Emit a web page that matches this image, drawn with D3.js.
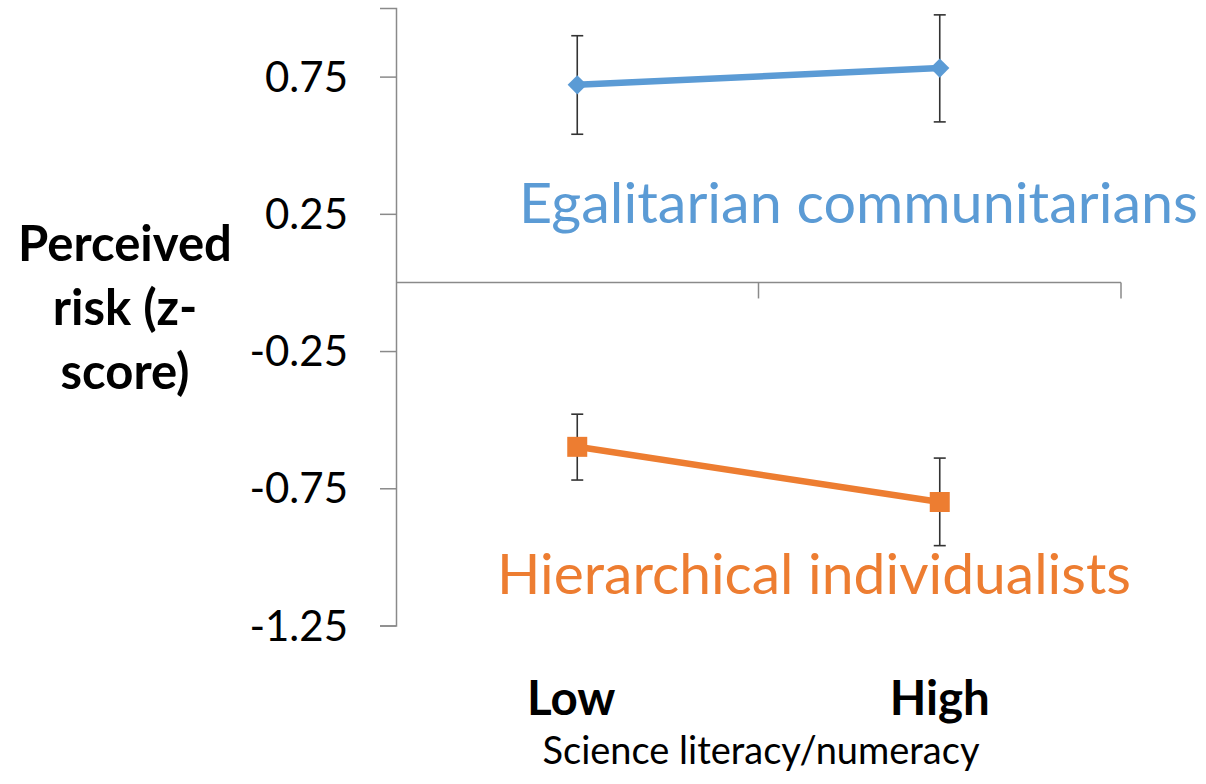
<!DOCTYPE html>
<html>
<head>
<meta charset="utf-8">
<script src="https://cdn.jsdelivr.net/npm/d3@7"></script>
<style>
  html, body { margin: 0; padding: 0; background: #fff; }
  svg { display: block; }
  text { font-family: Lato, "Open Sans", sans-serif; }
</style>
</head>
<body>
<svg id="chart" width="1206" height="784"></svg>
<script>
// ---- data ----
const categories = ["Low", "High"];
const egalitarian = [0.720, 0.781];
const egalitarianLower = [0.540, 0.585];
const egalitarianUpper = [0.899, 0.975];
const hierarchical = [-0.599, -0.800];
const hierarchicalLower = [-0.720, -0.959];
const hierarchicalUpper = [-0.480, -0.640];
const yTickValues = [-1.25, -0.75, -0.25, 0.25, 0.75];
const yTickLabels = ["-1.25", "-0.75", "-0.25", "0.25", "0.75"];
const yDomain = [-1.25, 1.0];
const yTitleLines = ["Perceived", "risk (z-", "score)"];
const xTitle = "Science literacy/numeracy";
const seriesNames = ["Egalitarian communitarians", "Hierarchical individualists"];

(function draw() {
  const svg = d3.select("#chart");
  const plotLeft = 396, plotRight = 1121, plotTop = 8, plotBottom = 625.5;
  const axisColor = "#8a8a8a";

  const x = d3.scaleBand().domain(categories).range([plotLeft, plotRight]).padding(0);
  const y = d3.scaleLinear().domain(yDomain).range([plotBottom, plotTop]);
  const cx = d => x(d) + x.bandwidth() / 2;

  // y axis
  const yAxis = d3.axisLeft(y)
    .tickValues(yTickValues)
    .tickSize(16)
    .tickPadding(32)
    .tickFormat((d, i) => yTickLabels[i]);
  const gy = svg.append("g").attr("transform", `translate(${plotLeft},0)`).call(yAxis);
  gy.select(".domain").attr("stroke", axisColor).attr("stroke-width", 1.5);
  gy.selectAll(".tick line").attr("stroke", axisColor).attr("stroke-width", 1.5);
  gy.selectAll(".tick text")
    .attr("font-family", "Lato, 'Open Sans', sans-serif")
    .attr("font-size", 42)
    .attr("fill", "#000")
    .attr("dy", "0.35em");

  // x axis at y = 0, ticks at band boundaries
  const y0 = y(0);
  const gx = svg.append("g");
  gx.append("line")
    .attr("x1", plotLeft).attr("x2", plotRight)
    .attr("y1", y0).attr("y2", y0)
    .attr("stroke", axisColor).attr("stroke-width", 1.5);
  const boundaries = categories.map(c => x(c) + x.step());
  gx.selectAll("line.tk").data(boundaries).join("line")
    .attr("class", "tk")
    .attr("x1", d => d).attr("x2", d => d)
    .attr("y1", y0).attr("y2", y0 + 16)
    .attr("stroke", axisColor).attr("stroke-width", 1.5);

  // category labels
  svg.selectAll("text.cat").data(categories).join("text")
    .attr("class", "cat")
    .attr("x", d => cx(d) - (d === "Low" ? 6 : 0))
    .attr("y", 715)
    .attr("text-anchor", "middle")
    .attr("font-weight", "bold")
    .attr("font-size", 47.5)
    .attr("fill", "#000")
    .text(d => d);

  // x title
  svg.append("text")
    .attr("x", 761).attr("y", 764)
    .attr("text-anchor", "middle")
    .attr("font-size", 38)
    .attr("fill", "#000")
    .text(xTitle);

  // y title
  svg.append("g").selectAll("text").data(yTitleLines).join("text")
    .attr("x", 125)
    .attr("y", (d, i) => 260.5 + i * 64)
    .attr("text-anchor", "middle")
    .attr("font-weight", "bold")
    .attr("font-size", 49)
    .attr("fill", "#000")
    .text(d => d);

  // series
  const series = [
    { values: egalitarian, lo: egalitarianLower, hi: egalitarianUpper, color: "#5B9BD5", shape: "diamond" },
    { values: hierarchical, lo: hierarchicalLower, hi: hierarchicalUpper, color: "#ED7D31", shape: "square" }
  ];

  const line = d3.line().x(d => cx(d.c)).y(d => y(d.v));

  series.forEach(s => {
    const pts = categories.map((c, i) => ({ c, v: s.values[i], lo: s.lo[i], hi: s.hi[i] }));
    const g = svg.append("g");
    const eb = g.selectAll("g.eb").data(pts).join("g").attr("class", "eb");
    eb.append("line")
      .attr("x1", d => cx(d.c)).attr("x2", d => cx(d.c))
      .attr("y1", d => y(d.hi)).attr("y2", d => y(d.lo))
      .attr("stroke", "#333").attr("stroke-width", 1.6);
    eb.append("line")
      .attr("x1", d => cx(d.c) - 6).attr("x2", d => cx(d.c) + 6)
      .attr("y1", d => y(d.hi)).attr("y2", d => y(d.hi))
      .attr("stroke", "#333").attr("stroke-width", 1.6);
    eb.append("line")
      .attr("x1", d => cx(d.c) - 6).attr("x2", d => cx(d.c) + 6)
      .attr("y1", d => y(d.lo)).attr("y2", d => y(d.lo))
      .attr("stroke", "#333").attr("stroke-width", 1.6);
    g.append("path").datum(pts)
      .attr("d", line)
      .attr("fill", "none")
      .attr("stroke", s.color)
      .attr("stroke-width", 6.5);
    const sym = s.shape === "diamond"
      ? d3.symbol().type(d3.symbolSquare).size(185)
      : d3.symbol().type(d3.symbolSquare).size(400);
    g.selectAll("path.mk").data(pts).join("path")
      .attr("class", "mk")
      .attr("d", sym)
      .attr("transform", d => `translate(${cx(d.c)},${y(d.v)})` + (s.shape === "diamond" ? " rotate(45)" : ""))
      .attr("fill", s.color);
  });

  // series labels
  svg.append("text")
    .attr("x", 519).attr("y", 223)
    .attr("font-size", 57)
    .attr("fill", "#5B9BD5")
    .attr("textLength", 679)
    .attr("lengthAdjust", "spacingAndGlyphs")
    .text(seriesNames[0]);
  svg.append("text")
    .attr("x", 497).attr("y", 594)
    .attr("font-size", 57)
    .attr("fill", "#ED7D31")
    .attr("textLength", 634)
    .attr("lengthAdjust", "spacingAndGlyphs")
    .text(seriesNames[1]);
})();
</script>
</body>
</html>
